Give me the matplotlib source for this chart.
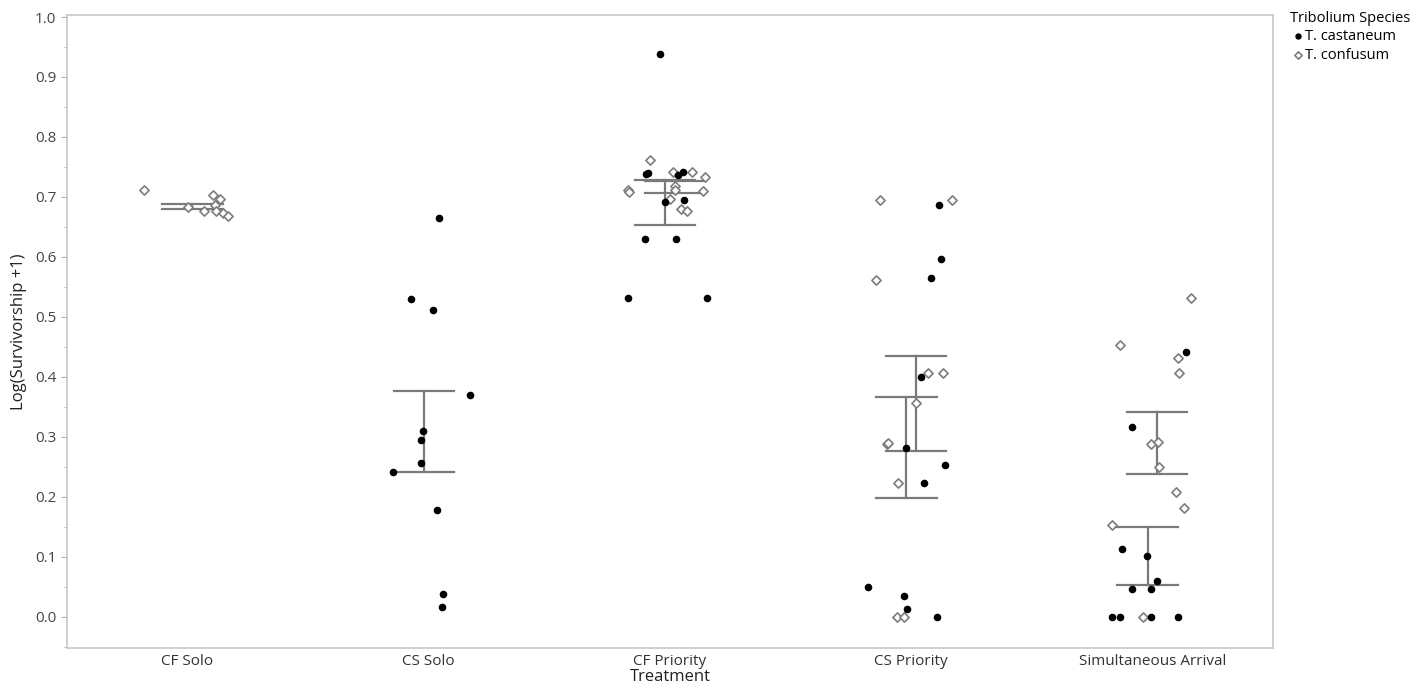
import numpy as np
import matplotlib
matplotlib.use("Agg")
import matplotlib.pyplot as plt
from matplotlib.ticker import MultipleLocator, FormatStrFormatter

plt.rcParams["font.family"] = ["Open Sans", "DejaVu Sans"]

treatments = ["CF Solo", "CS Solo", "CF Priority", "CS Priority", "Simultaneous Arrival"]

# T. castaneum (filled dots): treatment index, jitter, value
cast_cat = [1, 1, 1, 1, 1, 1, 1, 1, 1, 1, 1,
            2, 2, 2, 2, 2, 2, 2, 2, 2, 2, 2,
            3, 3, 3, 3, 3, 3, 3, 3, 3, 3, 3,
            4, 4, 4, 4, 4, 4, 4, 4, 4, 4, 4]
cast_jit = [-0.074, 0.017, 0.044, 0.172, -0.022, -0.033, -0.033, -0.150, 0.034, 0.060, 0.056,
            -0.043, -0.104, 0.026, -0.174, 0.152, -0.098, -0.091, 0.034, 0.055, -0.021, 0.058,
            0.117, 0.125, 0.080, 0.041, -0.022, 0.142, 0.051, -0.179, -0.030, -0.017, 0.106,
            0.140, -0.086, -0.021, -0.127, 0.017, -0.083, -0.008, -0.169, -0.134, -0.007, 0.108]
cast_val = [0.530, 0.512, 0.665, 0.370, 0.310, 0.295, 0.256, 0.242, 0.178, 0.038, 0.016,
            0.938, 0.630, 0.630, 0.532, 0.532, 0.738, 0.740, 0.737, 0.741, 0.691, 0.695,
            0.686, 0.596, 0.565, 0.400, 0.282, 0.254, 0.223, 0.050, 0.035, 0.014, 0.000,
            0.441, 0.316, 0.102, 0.114, 0.060, 0.046, 0.047, 0.000, 0.000, 0.000, 0.000]

# T. confusum (open diamonds)
conf_cat = [0, 0, 0, 0, 0, 0, 0, 0, 0,
            2, 2, 2, 2, 2, 2, 2, 2, 2, 2, 2, 2,
            3, 3, 3, 3, 3, 3, 3, 3, 3, 3, 3,
            4, 4, 4, 4, 4, 4, 4, 4, 4, 4, 4]
conf_jit = [-0.182, 0.000, 0.070, 0.104, 0.133, 0.112, 0.120, 0.145, 0.166,
            -0.084, 0.012, 0.092, 0.144, -0.174, -0.170, 0.138, 0.019, 0.019, -0.001, 0.044, 0.072,
            -0.128, 0.169, -0.148, 0.068, 0.130, 0.020, -0.100, -0.097, -0.055, -0.059, -0.031,
            0.160, -0.134, 0.104, 0.112, -0.008, 0.021, 0.028, 0.096, 0.131, -0.169, -0.041]
conf_val = [0.711, 0.684, 0.676, 0.703, 0.696, 0.686, 0.677, 0.674, 0.669,
            0.762, 0.742, 0.742, 0.734, 0.712, 0.709, 0.710, 0.719, 0.712, 0.697, 0.680, 0.676,
            0.695, 0.695, 0.562, 0.406, 0.406, 0.356, 0.288, 0.290, 0.223, 0.000, 0.000,
            0.532, 0.453, 0.431, 0.406, 0.288, 0.291, 0.250, 0.208, 0.182, 0.153, 0.000]

# mean +/- SE bars (lower, upper)
cast_bar_cat = [1, 2, 3, 4]
cast_bar_lo = [0.242, 0.653, 0.198, 0.053]
cast_bar_hi = [0.377, 0.728, 0.366, 0.150]
conf_bar_cat = [0, 2, 3, 4]
conf_bar_lo = [0.680, 0.707, 0.277, 0.238]
conf_bar_hi = [0.689, 0.727, 0.435, 0.341]

fig = plt.figure(figsize=(14.24, 6.91), dpi=100)
ax = fig.add_axes([0.047, 0.062, 0.847, 0.916])

bar_col = "#7a7a7a"
hw = 0.125
for cats, lo, hi, off in [(cast_bar_cat, cast_bar_lo, cast_bar_hi, -0.02),
                          (conf_bar_cat, conf_bar_lo, conf_bar_hi, 0.02)]:
    for c, l, h in zip(cats, lo, hi):
        x = c + off
        ax.plot([x, x], [l, h], color=bar_col, lw=1.6, zorder=1)
        ax.plot([x - hw, x + hw], [l, l], color=bar_col, lw=1.6, zorder=1)
        ax.plot([x - hw, x + hw], [h, h], color=bar_col, lw=1.6, zorder=1)

cx = np.array(cast_cat) + np.array(cast_jit)
fx = np.array(conf_cat) + np.array(conf_jit)
ax.scatter(fx, conf_val, marker="D", s=22, facecolors="white", edgecolors="#7c7c7c",
           linewidths=1.2, zorder=2, label="T. confusum")
ax.scatter(cx, cast_val, marker="o", s=20, color="black", zorder=3, label="T. castaneum")

ax.set_xlim(-0.5, 4.5)
ax.set_ylim(-0.052, 1.003)
ax.set_xticks(range(len(treatments)))
ax.set_xticklabels(treatments)
ax.yaxis.set_major_locator(MultipleLocator(0.1))
ax.yaxis.set_minor_locator(MultipleLocator(0.05))
ax.yaxis.set_major_formatter(FormatStrFormatter("%.1f"))
ax.tick_params(axis="x", length=0, labelsize=11, colors="#333333", pad=4)
ax.tick_params(axis="y", which="major", length=4, color="#aaaaaa", labelsize=11,
               labelcolor="#444444")
ax.tick_params(axis="y", which="minor", length=2, color="#aaaaaa")
for s in ax.spines.values():
    s.set_color("#c8c8c8")
    s.set_linewidth(1.2)

ax.set_xlabel("Treatment", fontsize=12, color="#222222", labelpad=0)
ax.set_ylabel("Log(Survivorship +1)", fontsize=12, color="#222222", labelpad=6)

h, l = ax.get_legend_handles_labels()
fig.legend([h[1], h[0]], [l[1], l[0]], title="Tribolium Species", loc="upper left",
           bbox_to_anchor=(0.902, 0.993), frameon=False, fontsize=10.5, title_fontsize=10.5,
           handletextpad=0.0, borderaxespad=0, markerscale=0.8, alignment="left",
           labelspacing=0.25, handlelength=1.0)

plt.savefig("out.png", dpi=100)
